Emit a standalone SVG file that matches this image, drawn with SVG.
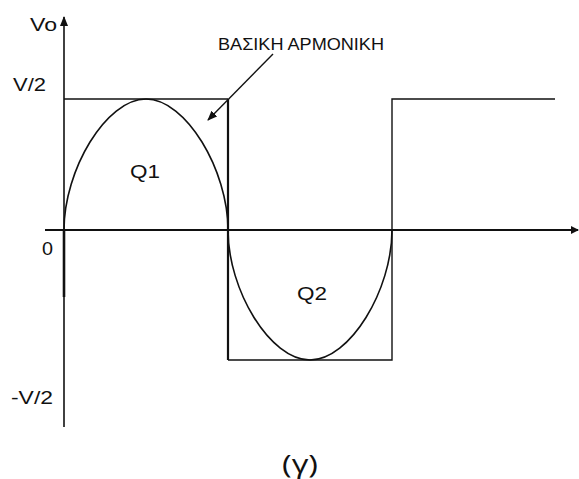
<svg xmlns="http://www.w3.org/2000/svg" width="579" height="479" viewBox="0 0 579 479">
<style>
.lbl{font-family:"Liberation Sans",Arial,sans-serif;fill:#111}
.ax{stroke:#111;fill:none}
.wave{stroke:#111;fill:none;stroke-width:1.4}
.sine{stroke:#111;fill:none;stroke-width:1.6;stroke-linejoin:round}
</style>
<defs>
<marker id="ah" markerWidth="8" markerHeight="8" refX="7" refY="4" orient="auto" markerUnits="userSpaceOnUse">
<path d="M0,0 L8,4 L0,8 Z" fill="#111"/>
</marker>
<marker id="ah2" markerWidth="10" markerHeight="8" refX="9" refY="4" orient="auto" markerUnits="userSpaceOnUse">
<path d="M0,0 L10,4 L0,8 Z" fill="#111"/>
</marker>
</defs>
<rect width="579" height="479" fill="#fff"/>
<g id="axes">
<line class="ax" x1="64" y1="427" x2="64" y2="17" stroke-width="1.6" marker-end="url(#ah2)"/>
<line class="ax" x1="64" y1="230" x2="64" y2="297" stroke-width="2.6"/>
<line class="ax" x1="45" y1="230" x2="578" y2="230" stroke-width="2.2" marker-end="url(#ah)"/>
</g>
<g id="square-wave">
<polyline class="wave" points="64,99 228,99"/>
<line class="ax" x1="228" y1="99" x2="228" y2="360" stroke-width="2.2"/>
<polyline class="wave" points="228,360 392,360 392,99 555,99"/>
</g>
<g id="fundamental">
<path class="sine" d="M64,230 C64,170 106,99 146,99 C186,99 228,170 228,230 C228,290 270,360 310,360 C350,360 392,290 392,230"/>
</g>
<g id="connectors">
<line class="ax" x1="273" y1="54" x2="208" y2="120" stroke-width="1.4" marker-end="url(#ah2)"/>
</g>
<g id="labels">
<text class="lbl" x="30" y="31" font-size="18" textLength="27" lengthAdjust="spacingAndGlyphs">Vo</text>
<text class="lbl" x="13" y="91" font-size="19" textLength="33" lengthAdjust="spacingAndGlyphs">V/2</text>
<text class="lbl" x="42" y="255" font-size="19" textLength="11" lengthAdjust="spacingAndGlyphs">0</text>
<text class="lbl" x="11" y="404" font-size="19" textLength="42" lengthAdjust="spacingAndGlyphs">-V/2</text>
<text class="lbl" x="130" y="178" font-size="18" textLength="30" lengthAdjust="spacingAndGlyphs">Q1</text>
<text class="lbl" x="297" y="300" font-size="18" textLength="30" lengthAdjust="spacingAndGlyphs">Q2</text>
<text class="lbl" x="218" y="50" font-size="17" textLength="166" lengthAdjust="spacingAndGlyphs">ΒΑΣΙΚΗ ΑΡΜΟΝΙΚΗ</text>
<text x="282" y="473" font-size="25" textLength="36" lengthAdjust="spacingAndGlyphs" font-family="'Open Sans','Noto Sans',sans-serif" fill="#111">(γ)</text>
</g>
</svg>
